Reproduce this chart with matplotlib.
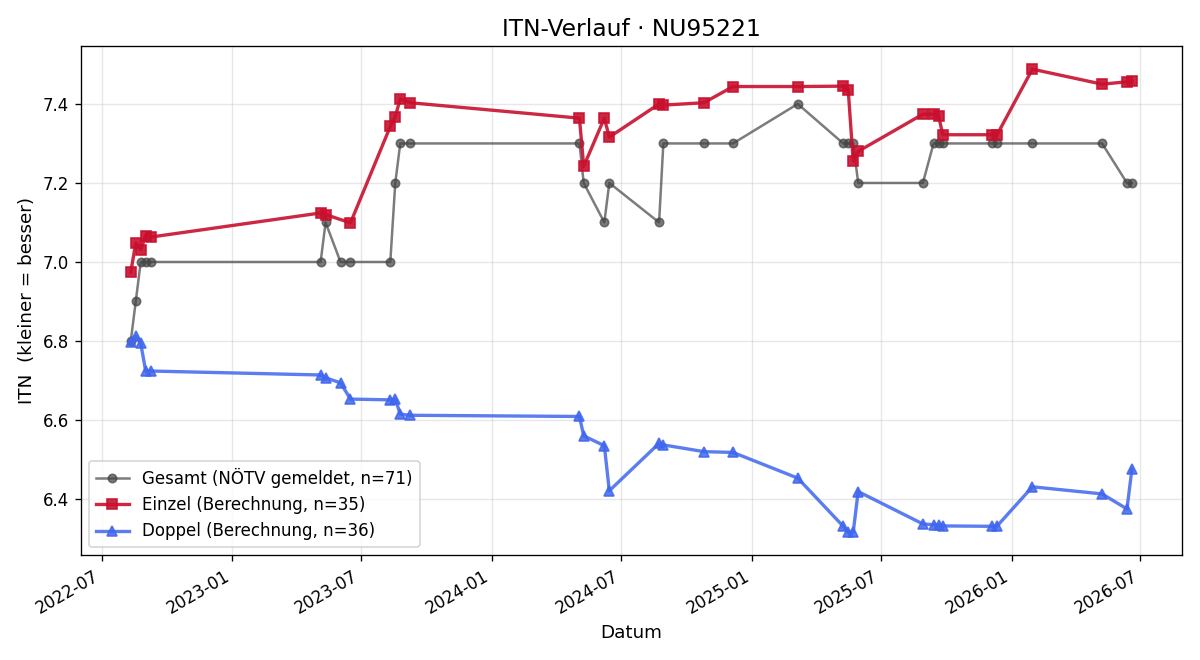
import matplotlib
matplotlib.use('Agg')
import matplotlib.pyplot as plt
import matplotlib.dates as mdates
import pandas as pd

# Gesamt (NÖTV gemeldet)
gesamt_dates = ['2022-08-11', '2022-08-18', '2022-08-25', '2022-09-01', '2022-09-08',
                '2023-05-05', '2023-05-12', '2023-06-02', '2023-06-16', '2023-08-11',
                '2023-08-18', '2023-08-25', '2023-09-08', '2024-05-03', '2024-05-09',
                '2024-06-07', '2024-06-14', '2024-08-23', '2024-08-29', '2024-10-25',
                '2024-12-05', '2025-03-06', '2025-05-09', '2025-05-16', '2025-05-23',
                '2025-05-30', '2025-08-29', '2025-09-13', '2025-09-20', '2025-09-26',
                '2025-12-04', '2025-12-11', '2026-01-30', '2026-05-08', '2026-06-12',
                '2026-06-19']
gesamt_itn = [6.8, 6.9, 7.0, 7.0, 7.0,
              7.0, 7.1, 7.0, 7.0, 7.0,
              7.2, 7.3, 7.3, 7.3, 7.2,
              7.1, 7.2, 7.1, 7.3, 7.3,
              7.3, 7.4, 7.3, 7.3, 7.3,
              7.2, 7.2, 7.3, 7.3, 7.3,
              7.3, 7.3, 7.3, 7.3, 7.2,
              7.2]

# Einzel (Berechnung)
einzel_dates = ['2022-08-11', '2022-08-18', '2022-08-25', '2022-09-01', '2022-09-08',
                '2023-05-05', '2023-05-12', '2023-06-16', '2023-08-11', '2023-08-18',
                '2023-08-25', '2023-09-08', '2024-05-03', '2024-05-09', '2024-06-07',
                '2024-06-14', '2024-08-23', '2024-08-29', '2024-10-25', '2024-12-05',
                '2025-03-06', '2025-05-09', '2025-05-16', '2025-05-23', '2025-05-30',
                '2025-08-29', '2025-09-13', '2025-09-20', '2025-09-26', '2025-12-04',
                '2025-12-11', '2026-01-30', '2026-05-08', '2026-06-12', '2026-06-19']
einzel_itn = [6.974, 7.048, 7.031, 7.067, 7.063,
              7.124, 7.120, 7.099, 7.343, 7.368,
              7.413, 7.403, 7.364, 7.242, 7.364,
              7.316, 7.400, 7.397, 7.403, 7.444,
              7.444, 7.445, 7.435, 7.255, 7.280,
              7.374, 7.374, 7.370, 7.322, 7.322,
              7.321, 7.488, 7.450, 7.456, 7.457]

# Doppel (Berechnung)
doppel_dates = ['2022-08-11', '2022-08-18', '2022-08-25', '2022-09-01', '2022-09-08',
                '2023-05-05', '2023-05-12', '2023-06-02', '2023-06-16', '2023-08-11',
                '2023-08-18', '2023-08-25', '2023-09-08', '2024-05-03', '2024-05-09',
                '2024-06-07', '2024-06-14', '2024-08-23', '2024-08-29', '2024-10-25',
                '2024-12-05', '2025-03-06', '2025-05-09', '2025-05-16', '2025-05-23',
                '2025-05-30', '2025-08-29', '2025-09-13', '2025-09-20', '2025-09-26',
                '2025-12-04', '2025-12-11', '2026-01-30', '2026-05-08', '2026-06-12',
                '2026-06-19']
doppel_itn = [6.798, 6.812, 6.794, 6.724, 6.724,
              6.714, 6.707, 6.694, 6.653, 6.651,
              6.653, 6.615, 6.612, 6.609, 6.560,
              6.535, 6.421, 6.541, 6.537, 6.520,
              6.518, 6.453, 6.331, 6.316, 6.316,
              6.419, 6.337, 6.335, 6.334, 6.332,
              6.331, 6.331, 6.431, 6.413, 6.375,
              6.476]

fig, ax = plt.subplots(figsize=(10, 5.5), dpi=120)

ax.plot(pd.to_datetime(gesamt_dates), gesamt_itn, marker='o', color='#444444',
        alpha=0.7, linewidth=1.5, markersize=5,
        label='Gesamt (NÖTV gemeldet, n=71)')
ax.plot(pd.to_datetime(einzel_dates), einzel_itn, marker='s', color='#c8102e',
        alpha=0.9, linewidth=2, markersize=6,
        label='Einzel (Berechnung, n=35)')
ax.plot(pd.to_datetime(doppel_dates), doppel_itn, marker='^', color='#3f66ee',
        alpha=0.85, linewidth=2, markersize=6,
        label='Doppel (Berechnung, n=36)')

ax.set_title('ITN-Verlauf · NU95221', fontsize=14)
ax.set_xlabel('Datum', fontsize=11)
ax.set_ylabel('ITN  (kleiner = besser)', fontsize=11)
ax.grid(True, alpha=0.3)
ax.xaxis.set_major_locator(mdates.MonthLocator(bymonth=(1, 7)))
ax.xaxis.set_major_formatter(mdates.DateFormatter('%Y-%m'))
ax.legend(loc='lower left')
fig.autofmt_xdate()
fig.tight_layout()
fig.savefig('out.png')
